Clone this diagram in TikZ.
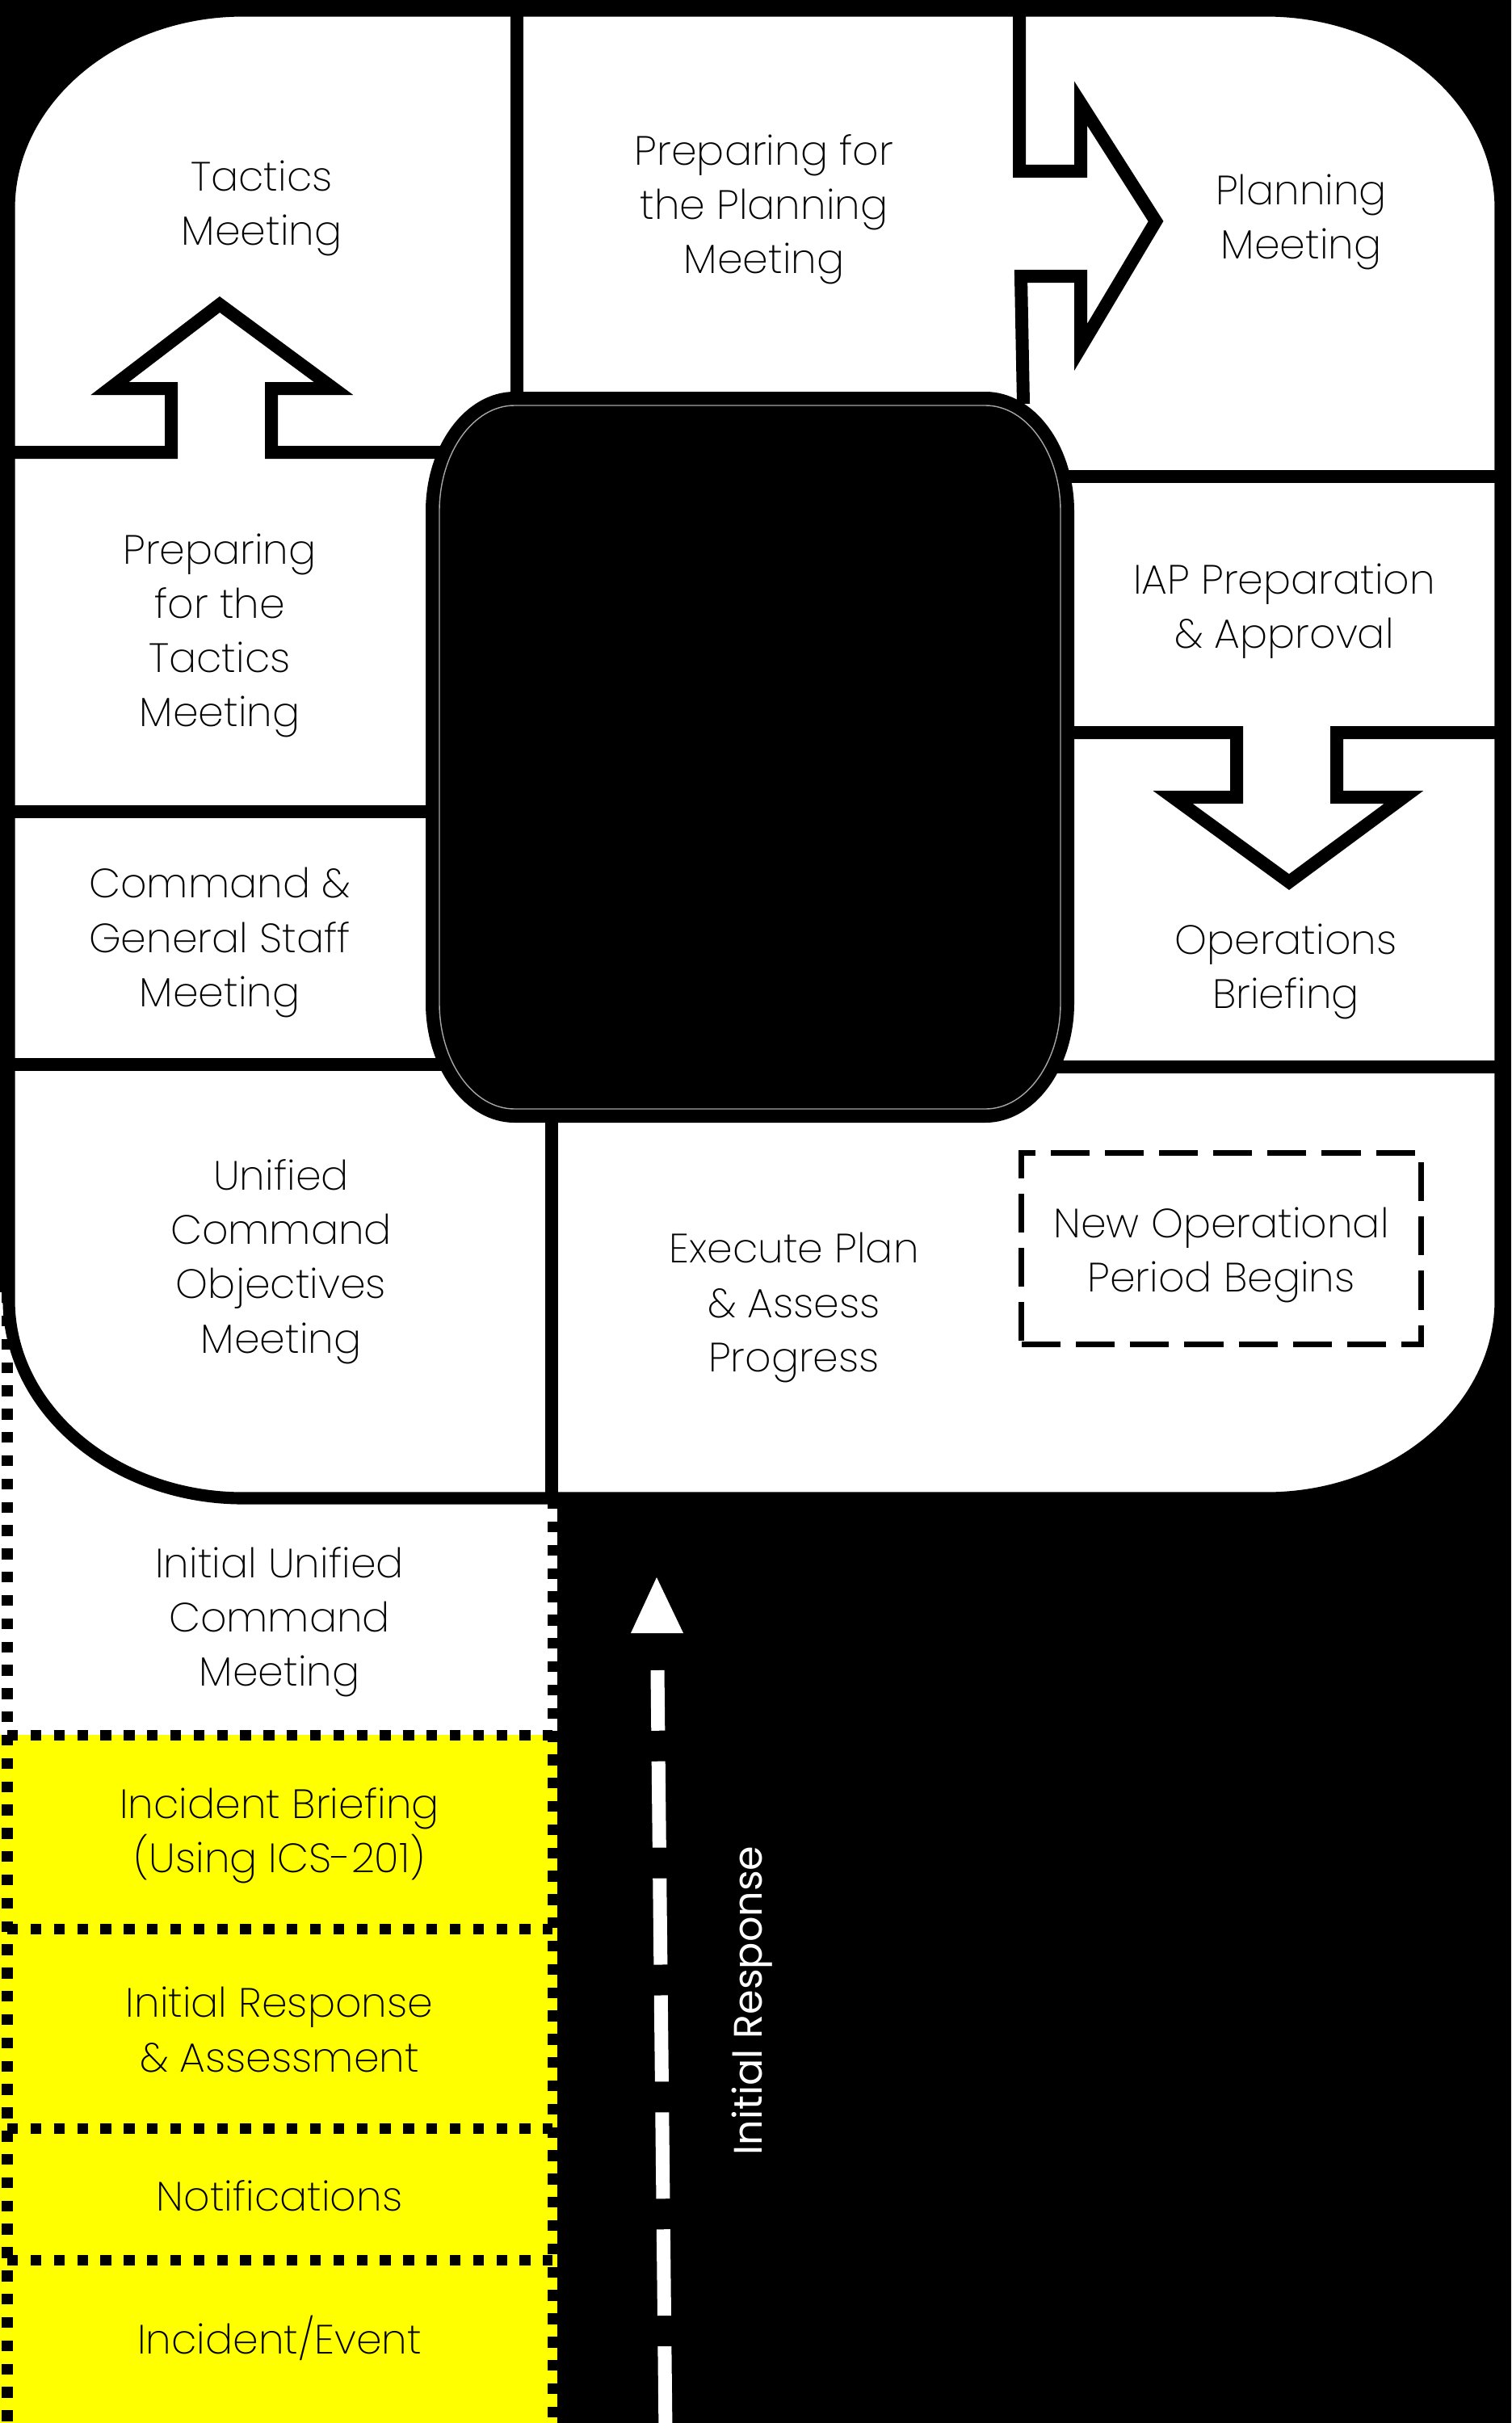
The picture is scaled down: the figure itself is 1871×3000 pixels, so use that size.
\documentclass[tikz,border=0pt]{standalone}
\usepackage{fontspec}
\IfFontExistsTF{Poppins ExtraLight}{\setmainfont{Poppins ExtraLight}}{%
  \IfFontExistsTF{Poppins Light}{\setmainfont{Poppins Light}}{\setmainfont{Poppins}}}
\newfontfamily\popreg{Poppins}
\definecolor{yel}{RGB}{255,255,0}
% elliptic rounded rectangle: L T R B rx ry  (y grows downward)
\newcommand\ellpath[6]{({#1+#5},#2) -- ({#3-#5},#2) .. controls ({#3-0.45*#5},#2) and (#3,{#2+0.45*#6}) .. (#3,{#2+#6})
 -- (#3,{#4-#6}) .. controls (#3,{#4-0.45*#6}) and ({#3-0.45*#5},#4) .. ({#3-#5},#4)
 -- ({#1+#5},#4) .. controls ({#1+0.45*#5},#4) and (#1,{#4-0.45*#6}) .. (#1,{#4-#6})
 -- (#1,{#2+#6}) .. controls (#1,{#2+0.45*#6}) and ({#1+0.45*#5},#2) .. ({#1+#5},#2) -- cycle}
\tikzset{
  cell/.style={line width=4.55pt, draw=black, line join=miter},
  outerln/.style={line width=4.3pt, draw=black, fill=white},
  dotln/.style={line width=3.7pt, draw=black, dash pattern=on 3.8pt off 4.4pt},
  lbl/.style={align=center, inner sep=0pt, text=black, font=\fontsize{14.4}{19.1}\selectfont},
  newbox/.style={draw=black, line width=2pt, dash pattern=on 13.7pt off 5.4pt,
     minimum width=4.94cm, minimum height=2.37cm, inner sep=0pt},
  roadln/.style={draw=white, line width=4.84pt, dash pattern=on 30.4pt off 10.8pt},
}
\begin{document}
\begin{tikzpicture}[x=0.01cm,y=-0.01cm]
\useasboundingbox (0,0) rectangle (1871,3000);
\fill[black] (0,0) rectangle (1871,3000);

% lower column boxes
\fill[white] (0,1600) rectangle (690,2148);
\fill[yel] (0,2148) rectangle (690,3000);
\draw[dotln] (9,1600) -- (9,3000);
\draw[dotln] (684,1855) -- (684,3000);
\foreach \yy in {2148,2388,2635,2798} \draw[dotln] (9,\yy) -- (684,\yy);

% outer rounded board
\path[outerln] \ellpath{11}{13}{1858}{1855}{290}{245};

% cell dividers
\draw[cell] (640,13) -- (640,500);
\draw[cell] (1262,13) -- (1262,212) -- (1338,212) -- (1338,128) -- (1431,274) -- (1338,430) -- (1338,342) -- (1264,342) -- (1267,500);
\draw[cell] (1250,590) -- (1858,590);
\draw[cell] (1250,907) -- (1531,907) -- (1531,987) -- (1452,987) -- (1596,1092) -- (1738,987) -- (1655,987) -- (1655,907) -- (1858,907);
\draw[cell] (11,560) -- (212,560) -- (212,481) -- (136,481) -- (272,377) -- (413,481) -- (336,481) -- (336,560) -- (580,560);
\draw[cell] (11,1005) -- (580,1005);
\draw[cell] (11,1318) -- (580,1318);
\draw[cell] (1250,1321) -- (1858,1321);
\draw[cell] (683,1300) -- (683,1855);

% central black block
\path[fill=black] \ellpath{527}{485}{1330}{1390}{110}{148};
\path[draw=gray!70, line width=0.4pt] \ellpath{544}{502}{1313}{1373}{93}{131};

% labels
\node[lbl] (tactics) at (324,258) {Tactics\\Meeting};
\node[lbl] (prepplan) at (946,259) {Preparing for\\the Planning\\Meeting};
\node[lbl] (planning) at (1611,275) {Planning\\Meeting};
\node[lbl] (preptac) at (272,787) {Preparing\\for the\\Tactics\\Meeting};
\node[lbl] (iap) at (1590,757) {IAP Preparation\\\& Approval};
\node[lbl] (cgs) at (272,1167) {Command \&\\General Staff\\Meeting};
\node[lbl] (ops) at (1592,1203) {Operations\\Briefing};
\node[lbl] (ucom) at (348,1562) {Unified\\Command\\Objectives\\Meeting};
\node[lbl] (exec) at (983,1619) {Execute Plan\\\& Assess\\Progress};
\node[newbox] (newop) at (1512,1546) {};
\node[lbl] (newoptext) at (1512,1554) {New Operational\\Period Begins};
\node[lbl] (iucm) at (346,2008) {Initial Unified\\Command\\Meeting};
\node[lbl] (brief) at (346,2273) {Incident Briefing\\(Using ICS-201)};
\node[lbl] (resp) at (346,2513) {Initial Response\\\& Assessment};
\node[lbl] (notif) at (346,2719) {Notifications};
\node[lbl] (event) at (346,2895) {Incident/Event};

% initial response road arrow
\coordinate (roadstart) at (824,3012);
\coordinate (roadend) at (814,2068);
\coordinate (arrtip) at (813,1953);
\coordinate (arrl) at (781,2022);
\coordinate (arrr) at (846,2022);
\draw[roadln] (roadstart) -- (roadend);
\fill[white] (arrtip) -- (arrl) -- (arrr) -- cycle;
\node[rotate=90, text=white, inner sep=0pt, font=\popreg\fontsize{14}{17}\selectfont] (irlabel) at (931,2477) {Initial Response};
\end{tikzpicture}
\end{document}
